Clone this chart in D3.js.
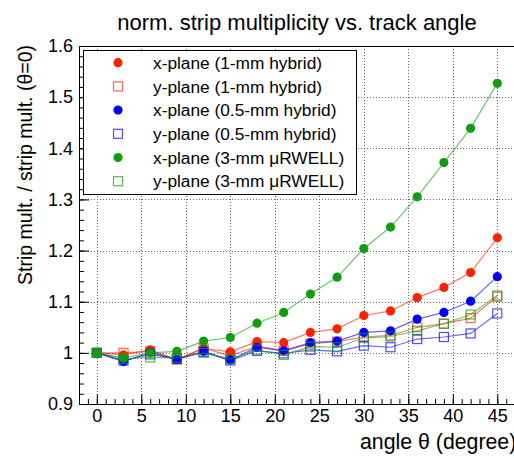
<!DOCTYPE html>
<html>
<head>
<meta charset="utf-8">
<script src="https://cdn.jsdelivr.net/npm/d3@7"></script>
<style>
  body { margin: 0; background: #fff; }
  svg { display: block; font-family: "Liberation Sans", Arial, sans-serif; }
</style>
</head>
<body>
<svg id="chart" width="514" height="458"></svg>
<script>
// angles (degree)
const theta = [0, 3, 6, 9, 12, 15, 18, 21, 24, 27, 30, 33, 36, 39, 42, 45]

// normalised strip multiplicity
const xHybrid1 = [1.000, 0.996, 1.006, 0.987, 1.009, 1.002, 1.022, 1.020, 1.040, 1.047, 1.073, 1.082, 1.108, 1.128, 1.157, 1.225]
const yHybrid1 = [1.000, 1.000, 1.003, 0.987, 1.009, 0.994, 1.013, 1.004, 1.018, 1.022, 1.031, 1.034, 1.050, 1.057, 1.068, 1.110]
const xHybrid05 = [1.000, 0.983, 1.001, 0.987, 1.003, 0.986, 1.011, 1.004, 1.020, 1.023, 1.040, 1.043, 1.066, 1.079, 1.101, 1.149]
const yHybrid05 = [1.000, 0.985, 0.997, 0.988, 1.002, 0.985, 1.004, 0.999, 1.006, 1.003, 1.014, 1.011, 1.027, 1.031, 1.038, 1.077]
const xWell = [1.000, 0.990, 1.000, 1.003, 1.023, 1.030, 1.058, 1.079, 1.115, 1.148, 1.204, 1.246, 1.305, 1.372, 1.439, 1.527]
const yWell = [1.000, 0.988, 0.991, 0.990, 1.000, 0.988, 1.006, 0.996, 1.012, 1.011, 1.029, 1.032, 1.043, 1.057, 1.075, 1.112]

const labels = [
  "x-plane (1-mm hybrid)", "y-plane (1-mm hybrid)",
  "x-plane (0.5-mm hybrid)", "y-plane (0.5-mm hybrid)",
  "x-plane (3-mm \u03bcRWELL)", "y-plane (3-mm \u03bcRWELL)"
]
const colors = ["#ff2200", "#ff2200", "#0000ff", "#0000ff", "#129c12", "#129c12"]
const filled = [true, false, true, false, true, false]
const values = [xHybrid1, yHybrid1, xHybrid05, yHybrid05, xWell, yWell]

const xTicks = [0, 5, 10, 15, 20, 25, 30, 35, 40, 45]
const yTicks = [0.9, 1.0, 1.1, 1.2, 1.3, 1.4, 1.5, 1.6]

const frame = { left: 79, top: 46, right: 524, bottom: 404 }

const x = d3.scaleLinear().domain([-2, 48]).range([frame.left, frame.right])
const y = d3.scaleLinear().domain([0.9, 1.6]).range([frame.bottom, frame.top])

const svg = d3.select("#chart")

svg.append("defs").append("clipPath").attr("id", "plot")
  .append("rect")
  .attr("x", frame.left).attr("y", frame.top)
  .attr("width", frame.right - frame.left).attr("height", frame.bottom - frame.top)

// dotted grid
let grid = svg.append("g")
  .attr("stroke", "#666")
  .attr("stroke-width", 1)
  .attr("stroke-dasharray", "1,2")
grid.selectAll(".gx").data(xTicks).enter().append("line")
  .attr("x1", d => Math.round(x(d)) + 0.5).attr("x2", d => Math.round(x(d)) + 0.5)
  .attr("y1", frame.top).attr("y2", frame.bottom)
grid.selectAll(".gy").data(yTicks.slice(1, -1)).enter().append("line")
  .attr("y1", d => Math.round(y(d)) + 0.5).attr("y2", d => Math.round(y(d)) + 0.5)
  .attr("x1", frame.left).attr("x2", frame.right)

// axes, ROOT style ticks pointing inwards
let xAxis = d3.axisBottom(x).tickValues(xTicks).tickSize(-10).tickPadding(5).tickFormat(d3.format("d"))
let xMinor = d3.axisBottom(x).tickValues(d3.range(-2, 49, 1)).tickSize(-5).tickFormat("")
let yAxis = d3.axisLeft(y).tickValues(yTicks).tickSize(-10).tickPadding(6).tickFormat(d => d === 1 ? "1" : d3.format(".1f")(d))
let yMinor = d3.axisLeft(y).tickValues(d3.range(0.9, 1.601, 0.02)).tickSize(-5).tickFormat("")

let styleAxis = g => {
  g.selectAll("path").remove()
  g.selectAll("line").attr("stroke", "#000")
  g.selectAll("text").attr("fill", "#000").style("font-size", "18px")
}

svg.append("g").attr("transform", `translate(0,${frame.bottom})`).call(xMinor).call(styleAxis)
svg.append("g").attr("transform", `translate(0,${frame.bottom})`).call(xAxis).call(styleAxis)
svg.append("g").attr("transform", `translate(${frame.left},0)`).call(yMinor).call(styleAxis)
svg.append("g").attr("transform", `translate(${frame.left},0)`).call(yAxis).call(styleAxis)

// series
let line = d3.line().x(d => x(d[0])).y(d => y(d[1]))
let plot = svg.append("g").attr("clip-path", "url(#plot)")

values.forEach((vals, i) => {
  let pts = theta.map((t, j) => [t, vals[j]])
  plot.append("path")
    .datum(pts)
    .attr("fill", "none")
    .attr("stroke", colors[i])
    .attr("stroke-opacity", 0.6)
    .attr("stroke-width", 1.2)
    .attr("d", line)
  if (filled[i]) {
    plot.selectAll(null).data(pts).enter().append("circle")
      .attr("cx", d => x(d[0])).attr("cy", d => y(d[1]))
      .attr("r", 4.6)
      .attr("fill", colors[i])
  } else {
    plot.selectAll(null).data(pts).enter().append("rect")
      .attr("x", d => x(d[0]) - 4.5).attr("y", d => y(d[1]) - 4.5)
      .attr("width", 9).attr("height", 9)
      .attr("fill", "none")
      .attr("stroke", colors[i])
      .attr("stroke-opacity", 0.7)
      .attr("stroke-width", 1.2)
  }
})

// frame
svg.append("rect")
  .attr("x", frame.left + 0.5).attr("y", frame.top + 0.5)
  .attr("width", frame.right - frame.left).attr("height", frame.bottom - frame.top)
  .attr("fill", "none").attr("stroke", "#000")

// legend
let legend = svg.append("g")
legend.append("rect")
  .attr("x", 83.5).attr("y", 50.5).attr("width", 273).attr("height", 144)
  .attr("fill", "#fff").attr("stroke", "#000")

let rows = legend.selectAll(".row").data(labels).enter().append("g")
  .attr("transform", (d, i) => `translate(0,${62.7 + i * 23.7})`)
rows.each(function(d, i) {
  let g = d3.select(this)
  if (filled[i]) {
    g.append("circle").attr("cx", 118).attr("cy", 0).attr("r", 4.6).attr("fill", colors[i])
  } else {
    g.append("rect").attr("x", 113.5).attr("y", -4.5).attr("width", 9).attr("height", 9)
      .attr("fill", "none").attr("stroke", colors[i]).attr("stroke-opacity", 0.7).attr("stroke-width", 1.2)
  }
  g.append("text").attr("x", 153).attr("dy", "0.36em")
    .style("font-size", "17.3px").text(d)
})

// titles
svg.append("text")
  .attr("x", 297).attr("y", 30)
  .attr("text-anchor", "middle")
  .style("font-size", "22px")
  .text("norm. strip multiplicity vs. track angle")

svg.append("text")
  .attr("x", 360).attr("y", 449)
  .style("font-size", "21.3px")
  .text("angle \u03b8 (degree)")

svg.append("text")
  .attr("transform", "translate(32,45) rotate(-90)")
  .attr("text-anchor", "end")
  .style("font-size", "19.5px")
  .text("Strip mult. / strip mult. (\u03b8=0)")
</script>
</body>
</html>
